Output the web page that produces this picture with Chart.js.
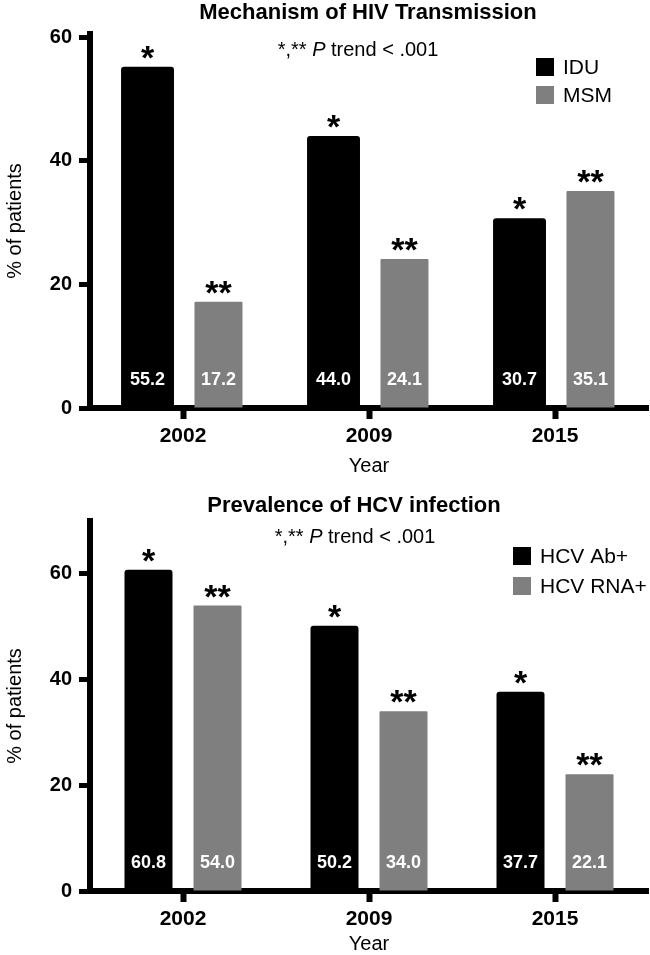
<!DOCTYPE html>
<html>
<head>
<meta charset="utf-8">
<title>HIV transmission and HCV prevalence</title>
<script src="https://cdn.jsdelivr.net/npm/chart.js@4.4.1/dist/chart.umd.min.js"></script>
<style>
  html, body { margin: 0; padding: 0; background: #fff; overflow: hidden; }
  .panel { position: absolute; left: 0; width: 650px; height: 478px; }
  #top { top: 0; }
  #bottom { top: 478px; }
</style>
</head>
<body>
<div class="panel" id="top"><canvas id="hivChart" width="650" height="478"></canvas></div>
<div class="panel" id="bottom"><canvas id="hcvChart" width="650" height="478"></canvas></div>
<script>
// data
const years = ['2002', '2009', '2015'];
const yTickValues = [0, 20, 40, 60];

const hivLabels = ['IDU', 'MSM'];
const iduPct = [55.2, 44.0, 30.7];
const msmPct = [17.2, 24.1, 35.1];

const hcvLabels = ['HCV Ab+', 'HCV RNA+'];
const hcvAbPct = [60.8, 50.2, 37.7];
const hcvRnaPct = [54.0, 34.0, 22.1];

const trendMarks = ['*', '**'];
const trendNote = ['*,** ', 'P', ' trend < .001'];

const FONT = '"Liberation Sans", Arial, Helvetica, sans-serif';
const BLACK = '#000000';
const GREY = '#7f7f7f';

// titles, note, legend, bar values and stars
const panelText = {
  id: 'panelText',
  afterDatasetsDraw(chart, args, opts) {
    const ctx = chart.ctx;
    ctx.save();

    chart.data.datasets.forEach((ds, di) => {
      const meta = chart.getDatasetMeta(di);
      meta.data.forEach((bar, i) => {
        ctx.textAlign = 'center';
        ctx.fillStyle = '#ffffff';
        ctx.font = 'bold 18px ' + FONT;
        ctx.textBaseline = 'middle';
        ctx.fillText(ds.data[i].toFixed(1), bar.x, bar.base - 27);

        ctx.fillStyle = BLACK;
        ctx.font = 'bold 34px ' + FONT;
        ctx.textBaseline = 'alphabetic';
        ctx.fillText(trendMarks[di], bar.x, bar.y + 2);
      });
    });

    // title
    ctx.fillStyle = BLACK;
    ctx.textAlign = 'center';
    ctx.textBaseline = 'middle';
    ctx.font = 'bold 22px ' + FONT;
    ctx.fillText(opts.title, opts.titleX, opts.titleY);

    // "*,** P trend < .001" with italic P
    const styles = ['', 'italic ', ''];
    let w = 0;
    trendNote.forEach((t, k) => {
      ctx.font = styles[k] + '20px ' + FONT;
      w += ctx.measureText(t).width;
    });
    let x = opts.noteX - w / 2;
    ctx.textAlign = 'left';
    trendNote.forEach((t, k) => {
      ctx.font = styles[k] + '20px ' + FONT;
      ctx.fillText(t, x, opts.noteY);
      x += ctx.measureText(t).width;
    });

    // legend
    chart.data.datasets.forEach((ds, di) => {
      const y = opts.legendY + di * opts.legendGap;
      ctx.fillStyle = ds.backgroundColor;
      ctx.fillRect(opts.legendX, y - 9, 18, 18);
      ctx.fillStyle = BLACK;
      ctx.font = '21px ' + FONT;
      ctx.textAlign = 'left';
      ctx.textBaseline = 'middle';
      ctx.fillText(ds.label, opts.legendX + 27, y + 1);
    });

    ctx.restore();
  }
};

function makeChart(id, names, first, second, cfg) {
  return new Chart(document.getElementById(id), {
    type: 'bar',
    data: {
      labels: years,
      datasets: [
        { label: names[0], data: first, backgroundColor: BLACK, borderRadius: 3, borderSkipped: 'start',
          categoryPercentage: cfg.catPct, barPercentage: cfg.barPct, maxBarThickness: cfg.firstMax },
        { label: names[1], data: second, backgroundColor: GREY, borderRadius: 1, borderSkipped: 'start',
          categoryPercentage: cfg.catPct, barPercentage: cfg.barPct, maxBarThickness: cfg.secondMax }
      ]
    },
    options: {
      responsive: false,
      animation: false,
      devicePixelRatio: 1,
      layout: { padding: { top: cfg.padTop, left: 0, right: 2, bottom: 0 } },
      plugins: {
        legend: { display: false },
        tooltip: { enabled: false },
        title: { display: false },
        panelText: cfg.text
      },
      scales: {
        x: {
          grid: { drawOnChartArea: false, drawTicks: true, tickLength: 11, tickWidth: 6, tickColor: BLACK, offset: false },
          border: { display: true, width: 6, color: BLACK },
          ticks: { color: BLACK, font: { family: FONT, size: 21, weight: 'bold' }, padding: 5 },
          title: { display: true, text: 'Year', color: BLACK, font: { family: FONT, size: 20 }, padding: 0 },
          afterFit: (s) => { s.height = cfg.xHeight; }
        },
        y: {
          min: 0,
          max: cfg.yMax,
          ticks: { stepSize: 20, color: BLACK, font: { family: FONT, size: 20, weight: 'bold' }, padding: 7 },
          afterBuildTicks: (s) => { s.ticks = yTickValues.map(v => ({ value: v })); },
          grid: { drawOnChartArea: false, drawTicks: true, tickLength: 11, tickWidth: 5, tickColor: BLACK },
          border: { display: true, width: 6, color: BLACK },
          title: { display: true, text: '% of patients', color: BLACK, font: { family: FONT, size: 20 }, padding: { top: 3, bottom: 0 } },
          afterFit: (s) => { s.width = 90; }
        }
      }
    },
    plugins: [panelText]
  });
}

makeChart('hivChart', hivLabels, iduPct, msmPct, {
  yMax: 60.5, padTop: 34, xHeight: 70,
  catPct: 0.763, barPct: 0.746, firstMax: 53, secondMax: 48,
  text: { title: 'Mechanism of HIV Transmission', titleX: 368, titleY: 13,
          noteX: 358, noteY: 50, legendX: 536, legendY: 67, legendGap: 28 }
});

makeChart('hcvChart', hcvLabels, hcvAbPct, hcvRnaPct, {
  yMax: 70, padTop: 43, xHeight: 65,
  catPct: 0.742, barPct: 0.696, firstMax: 48, secondMax: 48,
  text: { title: 'Prevalence of HCV infection', titleX: 354, titleY: 28,
          noteX: 355, noteY: 59, legendX: 513, legendY: 78, legendGap: 30 }
});
</script>
</body>
</html>
